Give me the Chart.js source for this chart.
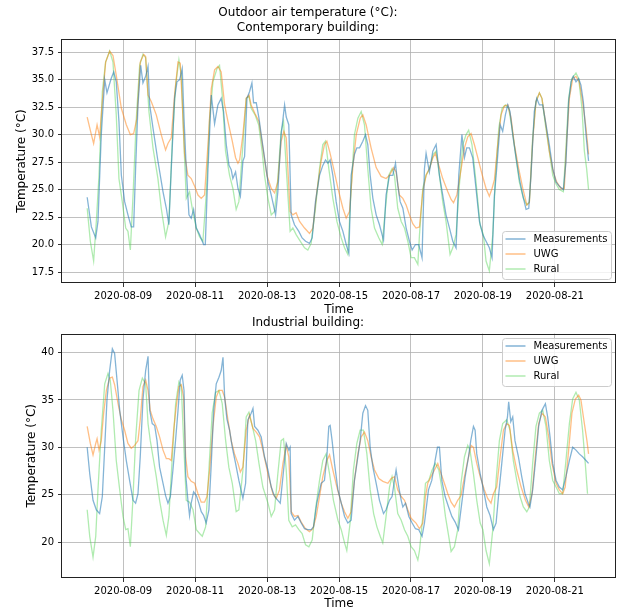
<!DOCTYPE html>
<html>
<head>
<meta charset="utf-8">
<script src="https://cdn.jsdelivr.net/npm/chart.js@4.4.1/dist/chart.umd.min.js"></script>
<style>
html,body{margin:0;padding:0;background:#fff;}
#wrap{position:relative;width:622px;height:611px;overflow:hidden;background:#fff;}
#c1{position:absolute;left:0;top:0;}
#c2{position:absolute;left:0;top:312px;}
</style>
</head>
<body>
<div id="wrap">
<canvas id="c1" width="622" height="318"></canvas>
<canvas id="c2" width="622" height="299"></canvas>
</div>
<script>
// ---- Data (hours since 2020-08-08 00:00) ----
const seriesNames = ["Measurements", "UWG", "Rural"];
const xTickHours = [24, 72, 120, 168, 216, 264, 312];
const xTickLabels = ["2020-08-09", "2020-08-11", "2020-08-13", "2020-08-15", "2020-08-17", "2020-08-19", "2020-08-21"];
const topYTicks = [17.5, 20, 22.5, 25, 27.5, 30, 32.5, 35, 37.5];
const topYLabels = ["17.5", "20.0", "22.5", "25.0", "27.5", "30.0", "32.5", "35.0", "37.5"];
const botYTicks = [20, 25, 30, 35, 40];
const botYLabels = ["20", "25", "30", "35", "40"];

// Contemporary building
const topMeasHours = [0,2.8,5.7,7.2,9.4,11.7,13.2,16,17.7,19.4,21.2,22.8,25,27.2,29.4,31,32.3,33.9,35.7,37.2,39,40.6,41.7,43.9,47.2,50.6,52.8,54.5,56.1,58.3,59.9,61.7,63.4,64.6,66.1,67.9,69.4,71,72.8,75,77.7,78.8,80.6,82.8,85,87.2,89.4,91,92.8,94.6,96.1,97.2,99,100.6,102.2,
103.9,105,106.6,108.3,109.9,111,112.8,114.6,116.1,118.3,120.6,122.8,125.7,127.2,129.4,131.7,132.8,134.5,136.1,138.3,141.2,143.4,145.7,148.3,150.1,152.3,155,157.2,159,160.6,162.1,163.9,166.1,168.3,170.6,172.8,174.6,176.1,178.3,179.9,181.7,183.9,185.7,187.2,188.8,190.6,192.8,195,197.7,199.4,201.7,203.9,205.7,207.2,208.8,210.6,212.8,215,216.8,219,221.2,
223.4,225,226.1,228.3,230.6,232.8,235,237.2,239.4,241.7,243.9,246.1,247.9,250,251.7,253.2,255,257.2,259.4,261.7,263.9,266.1,268.3,270.1,271.7,273.2,275.5,277.2,279,280.6,282.1,283.9,286.1,288.3,290.6,292.8,294.6,296.1,298.3,299.9,301.7,303.9,306.1,308.3,310.6,312.8,315,317.7,319.4,321.2,322.8,324.3,326.1,327.9,329.4,331,332.8,334.5];
const topMeasTemps = [24.3,21.6,20.6,22.1,30.0,35.0,33.8,35.1,35.7,34.8,31.2,26.3,23.9,22.7,21.6,21.6,26.9,32.7,36.3,34.7,35.3,36.2,32.7,30.6,27.6,24.8,23.3,21.8,26.9,33.3,34.8,35.0,36.0,31.5,26.9,22.7,22.4,23.2,21.5,20.9,20.0,20.0,26.9,33.6,31.0,32.7,33.3,32.1,29.1,27.2,26.8,26.0,26.6,25.1,24.4,
27.6,28.0,33.3,33.9,34.7,32.9,32.9,31.5,30.0,27.9,25.7,24.5,22.7,24.8,30.0,32.7,31.6,30.9,22.7,21.8,21.2,20.6,20.3,20.1,20.6,23.9,26.3,27.2,27.7,27.4,27.7,26.3,23.9,22.1,21.2,20.0,19.2,26.3,28.2,28.8,28.8,29.4,30.0,29.1,26.3,24.2,22.7,21.8,20.4,24.5,26.3,26.3,27.4,25.4,23.9,23.3,21.5,20.3,19.5,20.0,20.0,
18.8,26.9,28.3,26.6,28.5,29.1,26.3,24.5,22.7,21.5,20.3,19.7,26.3,30.0,27.9,28.8,28.8,27.9,25.1,22.1,20.9,20.3,19.7,18.8,24.5,26.9,30.9,30.3,31.8,32.7,32.1,30.0,27.9,26.0,24.5,23.2,23.3,26.3,32.1,33.3,32.7,32.7,30.9,29.1,26.9,25.7,25.3,25.0,27.5,33.0,34.8,35.3,34.8,35.1,34.5,33.0,30.0,27.6];

const topUwgHours = [0,2.8,4.3,6.6,8.3,10.1,12.3,15,17.2,19.4,22.8,26.1,28.8,31,33.2,35.4,37.7,39,40.6,42.8,46.1,49.4,52.3,53.9,56.1,58.3,60.6,62.1,63.4,65,67.2,69.4,71.7,73.9,76.1,78.3,80.6,82.8,85,87.2,89.4,91.7,93.9,96.8,99,100.6,101.7,
103.9,106.1,107.9,109.4,112,114.6,117.2,119.9,122.8,125,127.2,129.4,131.2,132.8,135.4,137.2,139.4,141.7,145,148.3,150.6,153.2,156.1,158.3,159.9,161.7,164.3,167.3,170.6,172.8,175,177.2,179.5,182.2,183.9,186.1,189.4,192.8,196.1,199.4,201.7,204.4,206.1,208.3,210.6,212.8,215,217.2,219.4,221.7,
223.9,226.1,228.3,230.6,232.3,234.6,237.2,240.6,242.8,244.4,246.6,248.8,251.7,253.9,256.1,258.3,260.6,263.6,266.1,268.3,270.1,271.7,273.9,276.1,278.3,280.6,282.8,285,287.9,290.6,293.3,295,297.2,299.4,301.7,303.4,305.7,308.3,311,313.2,316.1,318.3,319.9,321.7,323.9,326.1,328.3,330.5,332.8,334.5];
const topUwgTemps = [31.6,30.0,29.2,30.9,29.8,33.0,36.6,37.6,37.2,35.4,32.4,30.9,30.0,30.1,31.5,36.6,37.3,37.1,33.6,33.0,31.8,30.0,28.6,29.2,29.7,33.6,36.6,36.5,33.0,28.2,26.3,26.0,25.3,24.5,24.2,24.5,29.1,34.2,35.9,36.2,35.7,32.7,31.2,29.4,27.9,27.4,27.7,
30.0,33.3,33.6,32.7,31.9,31.2,28.8,26.3,25.1,24.7,25.7,29.4,30.3,29.7,23.0,22.7,22.9,22.1,21.5,21.0,21.5,24.8,27.6,29.1,29.4,28.5,27.0,25.1,23.3,22.4,23.0,27.0,30.0,31.5,31.8,30.9,28.8,27.0,26.2,26.0,26.3,27.0,26.6,24.5,24.2,23.6,22.7,21.9,21.5,21.6,
24.8,26.3,26.9,27.9,28.3,27.2,26.0,24.8,24.1,23.8,24.5,26.3,28.8,29.8,30.1,29.1,27.9,26.3,25.1,24.4,25.1,25.9,29.1,31.8,32.6,32.7,31.5,29.1,26.9,25.1,23.6,23.8,29.4,33.0,33.8,33.3,31.2,28.5,26.6,25.7,25.1,25.1,29.4,33.3,35.1,35.3,34.8,33.0,30.6,28.2];

const topRurHours = [0,2.1,4.3,6.1,7.9,10.1,12.3,15,17.2,19.4,21.2,23.4,25.7,27.2,28.8,30.6,32.8,35,37.2,39,41.2,43.9,47.2,49.4,52.3,54.5,56.8,59,61.2,62.8,64.3,66.1,68.3,70.1,72.8,75,77.2,79.4,81.7,83.9,86.6,88.3,90.1,92.3,95,97.2,99.4,101.2,
103.9,106.1,107.9,109.4,112,114.4,116.7,118.3,120.6,122.8,125,127.2,129.4,131,132.8,135.4,137.2,139.4,141.7,145,147.2,149.4,152.3,155,157.2,159,161.2,163.9,166.6,169.5,171.7,173.9,176.1,178.3,180.6,182.8,185,187.2,189.4,191.7,194.6,196.8,199,201.2,203.4,205,207.2,209.5,211.7,213.9,216.1,218.3,220.6,
221.7,223.9,226.1,228.3,230.9,232.8,235,237.2,239.4,242.1,243.9,246.1,248.3,250.6,252.8,254.5,256.7,259.4,262.1,264.3,266.1,268.3,270.6,272.3,274.6,276.8,279,281.2,283.4,286.1,288.3,291,293.3,295,297.2,299.4,301.7,303.4,305.7,308.3,310.6,312.8,315,317.7,319.4,321.2,323.3,326.1,327.9,330.1,331.7,333.2,334.5];
const topRurTemps = [23.3,20.3,18.5,22.1,26.3,33.9,36.6,37.6,36.6,31.8,26.0,23.9,21.5,21.2,19.5,24.5,31.5,36.3,37.3,37.0,32.1,28.8,26.0,23.3,20.7,22.1,29.4,34.5,36.8,35.4,30.0,24.2,24.8,23.3,21.5,20.7,20.3,24.5,31.5,34.8,36.0,36.3,33.6,28.5,26.3,25.1,23.2,23.9,
29.1,33.3,33.5,32.4,31.8,30.9,28.5,26.3,24.2,22.7,23.0,26.0,30.3,31.2,27.0,21.2,21.5,20.9,20.4,19.7,19.5,20.1,23.3,26.9,29.1,29.4,26.9,24.2,22.1,20.6,19.7,19.1,25.1,30.0,31.5,32.1,30.9,26.9,23.3,21.5,20.6,20.0,23.3,26.3,26.9,26.3,23.3,22.1,21.5,20.3,18.8,18.8,18.2,
20.9,25.1,26.3,26.9,28.2,28.5,26.3,23.9,22.1,19.1,19.7,20.9,25.4,29.1,30.0,30.4,29.1,25.7,21.8,20.9,18.5,17.6,20.9,26.0,30.6,32.4,32.7,32.4,30.6,27.9,25.7,24.2,23.6,23.9,29.7,33.0,33.8,33.3,30.9,28.5,26.3,25.5,25.0,24.8,28.8,33.3,35.1,35.6,35.1,32.4,28.5,26.9,25.0];

// Industrial building
const botMeasHours = [0,1.7,3.9,6.1,8.3,10.1,11.7,13.2,15,16.8,18.3,19.9,21.7,23.9,26.1,28.3,30.6,32.3,33.9,35.4,37.2,39,40.6,41.7,43.4,45,46.6,48.3,50.6,52.3,53.9,55.5,57.2,59,60.6,62.1,63.4,64.6,65.7,67.2,68.3,69.4,71,72.8,74.5,76.1,77.7,79.4,81.2,82.8,84.4,86.1,87.9,89.4,90.6,91.7,93.2,95,96.8,99,101.2,
103.9,105.7,107.2,109.4,110.6,111.7,113.9,116.1,118.3,120.6,122.8,125,127.2,128.8,130.6,132.8,134.5,135.4,136.1,138.3,140.6,142.8,145,147.2,149.4,151,153.2,156.1,158.3,159.9,161.2,162.1,163.4,165,167.3,169.5,171.7,173.9,176.1,178.3,180.6,182.1,183.9,185.7,187.2,188.8,190.6,192.8,195,197.7,199.4,201.7,203.4,205,206.1,207.9,209.5,210.6,212.4,214.6,216.8,219,221.2,
223.4,225,227.7,229.9,232.1,233.7,235,236.6,238.8,241.1,243.3,245.5,247.7,249.9,252.2,254.4,255.9,257.7,258.8,259.9,262.2,264.4,266.6,268.8,271,272.8,274.4,276.6,278.8,280.4,281.2,282.6,283.9,285.4,287.7,289.9,292.1,294.3,295.4,297.2,299.4,301.2,303.4,305.7,307.2,308.8,310.6,312.8,315,317.2,319.4,321.7,323.9,326.1,328.3,330.5,332.8,334.5];
const botMeasTemps = [30.0,27.2,24.4,23.4,23.0,24.8,30.0,35.0,38.1,40.4,39.9,37.1,33.9,31.1,28.6,26.5,24.4,24.1,25.1,29.0,35.0,38.1,39.6,33.9,32.5,32.3,30.7,27.9,26.2,24.9,24.1,24.8,27.6,30.8,33.9,37.1,37.6,36.0,27.2,24.4,22.8,24.1,25.3,24.9,24.1,23.2,22.8,22.0,23.4,28.3,33.9,36.7,37.4,38.1,39.5,35.3,33.0,31.8,30.0,28.3,26.5,
24.6,26.2,32.9,33.6,34.1,32.2,31.8,31.1,29.0,27.6,25.8,24.8,24.4,24.1,26.9,30.4,29.7,30.0,23.0,22.3,22.7,22.0,21.4,21.3,21.3,21.6,24.1,26.2,26.5,29.0,32.2,32.3,30.7,28.3,25.5,24.1,22.7,22.0,22.3,26.5,29.0,30.7,33.6,34.4,33.9,30.0,27.9,26.2,24.4,23.0,23.4,24.4,24.8,26.5,27.6,25.8,24.4,23.7,24.1,22.7,22.0,21.4,21.3,
20.6,22.0,25.5,26.5,28.6,30.0,30.0,26.5,24.8,23.7,22.7,22.1,21.3,24.1,26.9,29.0,30.7,32.2,31.8,29.3,27.2,25.5,23.7,22.8,21.3,22.0,24.8,28.3,31.8,33.2,34.8,32.7,33.2,30.7,29.0,26.9,25.1,24.1,23.7,25.5,29.0,32.2,33.9,34.6,33.2,31.1,28.3,26.5,25.8,25.5,26.9,28.6,30.0,29.7,29.3,29.0,28.6,28.3];

const botUwgHours = [0,2.1,3.9,5.7,6.6,7.9,9.4,11,12.8,15,16.8,18.3,20.6,22.8,25,27.2,29.4,31.7,33.9,35.4,37.2,39,40.6,42.1,43.9,46.1,48.3,50.6,52.8,54.5,56.1,57.7,59.4,61.2,62.8,64.3,65.7,67.2,69.4,71.7,73.9,76.1,78.3,79.9,81.7,83.9,86.1,87.9,90.1,91.7,93.9,96.1,98.3,100.6,102.2,
103.9,106.1,108.3,110.6,112.8,115,117.2,120.6,123.9,126.1,128.3,130.6,132.8,134.5,136.1,138.3,140.6,142.8,145.7,148.3,150.6,152.8,155,157.2,159.9,161.7,163.9,166.6,169.5,171.7,173.9,176.1,178.3,180.6,182.8,185,187.2,189.4,191.7,194.6,197.3,200.6,202.8,205,207.2,209.5,211.7,213.9,216.1,219.4,221.7,
223.9,225.7,227.2,229.4,231.7,233.9,236.1,238.3,240.6,242.8,245,247.2,249.4,251.7,253.9,256.1,257.7,259.9,262.2,265,267.2,269.4,271,273.2,275.5,277.7,279.9,281.7,283.9,286.6,289.5,292.4,294.6,296.8,299,301.2,303.4,305.7,307.9,310.1,312.8,315,317.2,318.9,321.2,323.4,325.7,327.9,329.4,331.7,333.4,334.5];
const botUwgTemps = [32.2,30.4,29.2,30.4,30.9,29.7,30.7,33.6,36.0,37.3,37.4,36.6,34.6,32.9,31.8,30.4,29.9,30.2,30.7,32.9,36.4,37.1,36.0,33.9,33.0,32.2,31.1,29.7,28.8,28.8,28.6,31.8,34.3,36.4,36.6,35.3,29.0,26.9,26.4,26.2,25.1,24.2,24.2,24.8,27.6,32.2,35.3,36.0,36.0,35.3,32.9,30.7,29.3,28.3,27.4,
27.9,31.8,33.4,32.0,31.6,31.1,29.7,27.2,25.1,24.6,25.5,28.3,30.2,29.0,23.2,22.7,22.8,22.1,21.4,21.1,21.4,22.7,24.8,26.9,28.6,29.2,27.6,25.8,24.1,23.2,22.5,23.2,26.5,29.3,31.1,31.6,30.7,29.0,27.6,26.7,26.4,26.2,26.7,26.9,25.5,24.8,24.4,23.4,22.5,22.0,21.4,
22.0,24.8,26.2,26.9,27.6,28.3,27.2,26.2,25.1,24.2,23.7,24.4,24.9,26.9,28.6,30.2,30.0,28.3,26.9,25.5,24.6,24.1,25.1,25.8,29.0,31.8,32.5,32.3,29.7,27.6,25.8,24.4,23.7,25.1,29.0,32.5,33.6,33.2,31.1,28.3,26.2,25.5,25.1,25.8,29.7,33.6,35.1,35.5,35.0,32.5,30.7,29.3];

const botRurHours = [0,1.7,3.9,5.7,7.2,9.4,11.7,13.9,15.4,17.2,19.4,21.7,23.9,25.7,27.2,28.8,30.6,32.3,34.6,36.8,39,40.6,42.1,43.9,46.1,48.3,50.6,52.8,54.5,56.8,59,61.2,62.8,64.3,66.1,68.3,70.6,72.8,75,76.8,79,81.2,83.4,85.7,87.9,90.1,92.3,94.5,96.8,99.4,101.2,
103.9,106.1,107.9,110.2,112.4,114.6,117.2,120.6,122.8,125,127.2,129.4,131,132.8,134.5,136.8,139,141.2,143.4,145.7,147.9,150.1,152.3,155,157.2,159.4,161.7,164.3,167.3,169.5,171.7,173.2,175.4,177.6,179.9,182.1,184.3,186.6,188.8,191.1,193.3,195.5,197.2,199.4,201.7,203.4,205,207.2,209.5,211.7,213.9,216.1,218.3,220.6,
221.7,223.9,225.7,227.9,230.1,232.3,234.6,236.8,239,241.2,242.8,245,247.2,249.4,251.7,253.9,255.4,257.7,259.9,262.2,264,266.1,268.3,270.6,272.8,275,277.2,279.9,282.1,284.3,286.6,288.8,291,293.3,295,297.2,299.4,301.7,303.9,306.1,308.3,310.6,312.8,315,317.2,319.4,321.7,323.9,326.1,328.3,330.5,332.3,333.8];
const botRurTemps = [23.4,20.6,18.4,20.6,25.5,31.8,36.7,37.8,37.1,33.9,28.6,25.5,22.7,21.3,21.4,19.5,24.8,30.8,36.0,37.3,36.7,32.5,30.7,29.0,26.9,24.4,22.3,20.7,22.7,29.0,34.6,36.9,36.4,30.8,24.4,24.2,23.4,21.3,20.9,20.6,21.6,27.6,33.6,35.8,36.0,34.6,30.8,27.9,26.2,23.2,23.4,
27.6,33.2,33.7,32.2,30.7,28.3,25.8,24.1,22.7,23.4,27.2,30.7,30.9,27.6,22.3,21.6,21.8,21.3,20.9,19.7,19.5,20.2,23.4,26.5,28.6,29.3,27.2,24.4,22.3,21.3,19.9,19.1,22.0,27.6,30.4,31.8,31.8,29.3,25.5,23.0,21.6,20.6,19.9,22.7,25.8,26.9,25.8,23.0,22.3,21.3,20.6,19.5,19.1,18.1,
19.1,22.7,26.2,26.5,27.6,28.3,27.6,25.5,22.7,20.6,19.0,19.5,21.3,26.2,29.0,30.2,29.7,27.2,24.4,22.0,21.3,19.1,17.7,21.3,26.5,30.7,32.5,32.9,31.8,28.6,26.5,24.8,23.7,23.2,23.7,28.3,32.2,33.6,33.9,32.2,28.6,26.5,25.8,25.1,25.1,28.6,32.5,35.1,35.8,35.0,31.8,28.3,25.1];

// ---- Styling ----
const FONT = "'DejaVu Sans', 'Liberation Sans', sans-serif";
const lineColors = ["rgba(31,119,180,0.55)", "rgba(255,127,14,0.5)", "rgba(80,210,80,0.45)"];
Chart.defaults.font.family = FONT;
Chart.defaults.color = "#000";

function pts(h, v) { return h.map((x, i) => ({x: x, y: v[i]})); }

const framePlugin = {
  id: "frame",
  afterDatasetsDraw(chart) {
    const a = chart.chartArea, ctx = chart.ctx;
    ctx.save();
    ctx.strokeStyle = "#222";
    ctx.lineWidth = 1;
    ctx.strokeRect(Math.round(a.left) - 0.5, Math.round(a.top) + 0.5, Math.round(a.right - a.left) + 0.0, Math.round(a.bottom - a.top) - 1);
    ctx.restore();
  }
};

const legendPlugin = {
  id: "mplLegend",
  afterDraw(chart, args, opts) {
    const ctx = chart.ctx, a = chart.chartArea;
    const w = 109, h = 48;
    const x = Math.round(a.right - 5 - w) + 0.5;
    const y = Math.round(opts.where === "lower" ? a.bottom - 4 - h : a.top + 4) + 0.5;
    ctx.save();
    const r = 3;
    ctx.beginPath();
    ctx.moveTo(x + r, y);
    ctx.lineTo(x + w - r, y); ctx.arcTo(x + w, y, x + w, y + r, r);
    ctx.lineTo(x + w, y + h - r); ctx.arcTo(x + w, y + h, x + w - r, y + h, r);
    ctx.lineTo(x + r, y + h); ctx.arcTo(x, y + h, x, y + h - r, r);
    ctx.lineTo(x, y + r); ctx.arcTo(x, y, x + r, y, r);
    ctx.closePath();
    ctx.fillStyle = "rgba(255,255,255,0.8)";
    ctx.fill();
    ctx.strokeStyle = "#cccccc";
    ctx.lineWidth = 1;
    ctx.stroke();
    chart.data.datasets.forEach((ds, i) => {
      const cy = y + 7.5 + 15 * i;
      ctx.strokeStyle = ds.borderColor;
      ctx.lineWidth = 1.5;
      ctx.beginPath(); ctx.moveTo(x + 3, cy); ctx.lineTo(x + 23, cy); ctx.stroke();
      ctx.fillStyle = "#000";
      ctx.font = "10px " + FONT;
      ctx.textBaseline = "middle";
      ctx.textAlign = "left";
      ctx.fillText(ds.label, x + 31, cy);
    });
    ctx.restore();
  }
};

function makeChart(id, cfg) {
  const datasets = cfg.series.map((s, i) => ({
    label: seriesNames[i],
    data: pts(s[0], s[1]),
    borderColor: lineColors[i],
    backgroundColor: lineColors[i],
    borderWidth: 1.3,
    pointRadius: 0,
    tension: 0,
    fill: false
  }));
  return new Chart(document.getElementById(id), {
    type: "line",
    data: {datasets: datasets},
    plugins: [framePlugin, legendPlugin],
    options: {
      responsive: false,
      animation: false,
      devicePixelRatio: 1,
      layout: {padding: {left: 0, right: 6, top: 0, bottom: 0}},
      plugins: {
        legend: {display: false},
        tooltip: {enabled: false},
        title: {
          display: true,
          text: cfg.title,
          font: {size: 12, weight: "normal", lineHeight: 1.25},
          color: "#000",
          padding: cfg.titlePad
        },
        mplLegend: {where: cfg.legendWhere}
      },
      scales: {
        x: {
          type: "linear",
          min: -16.8,
          max: 352.8,
          afterBuildTicks: sc => { sc.ticks = xTickHours.map(v => ({value: v})); },
          afterFit: sc => { sc.height = cfg.xHeight; },
          ticks: {
            font: {size: 10},
            color: "#000",
            padding: 3,
            maxRotation: 0,
            autoSkip: false,
            callback: (v) => { const i = xTickHours.indexOf(v); return i >= 0 ? xTickLabels[i] : ""; }
          },
          grid: {color: "#b0b0b0", lineWidth: 0.8, tickLength: 4, tickColor: "#000", tickWidth: 0.8},
          border: {display: false},
          title: {display: true, text: "Time", font: {size: 12, lineHeight: 1.2}, color: "#000", padding: {top: 0, bottom: cfg.xTitleBottom}}
        },
        y: {
          type: "linear",
          min: cfg.yMin,
          max: cfg.yMax,
          afterBuildTicks: sc => { sc.ticks = cfg.yTicks.map(v => ({value: v})); },
          afterFit: sc => { sc.width = 62; },
          ticks: {
            font: {size: 10},
            color: "#000",
            padding: 4,
            autoSkip: false,
            callback: (v) => { const i = cfg.yTicks.indexOf(v); return i >= 0 ? cfg.yLabels[i] : ""; }
          },
          grid: {color: "#b0b0b0", lineWidth: 0.8, tickLength: 4, tickColor: "#000", tickWidth: 0.8},
          border: {display: false},
          title: {display: true, text: "Temperature (°C)", font: {size: 12, lineHeight: 1.2}, color: "#000", padding: {top: cfg.yTitleLeft, bottom: 0}}
        }
      }
    }
  });
}

makeChart("c1", {
  title: ["Outdoor air temperature (°C):", "Contemporary building:"],
  titlePad: {top: 5.5, bottom: 3.5},
  series: [[topMeasHours, topMeasTemps], [topUwgHours, topUwgTemps], [topRurHours, topRurTemps]],
  yMin: 16.5, yMax: 38.7,
  yTicks: topYTicks, yLabels: topYLabels,
  xHeight: 35, xTitleBottom: 1,
  yTitleLeft: 15,
  legendWhere: "lower"
});

makeChart("c2", {
  title: ["Industrial building:"],
  titlePad: {top: 3, bottom: 3.6},
  series: [[botMeasHours, botMeasTemps], [botUwgHours, botUwgTemps], [botRurHours, botRurTemps]],
  yMin: 16.2, yMax: 42.0,
  yTicks: botYTicks, yLabels: botYLabels,
  xHeight: 33, xTitleBottom: 0,
  yTitleLeft: 25,
  legendWhere: "upper"
});
</script>
</body>
</html>
